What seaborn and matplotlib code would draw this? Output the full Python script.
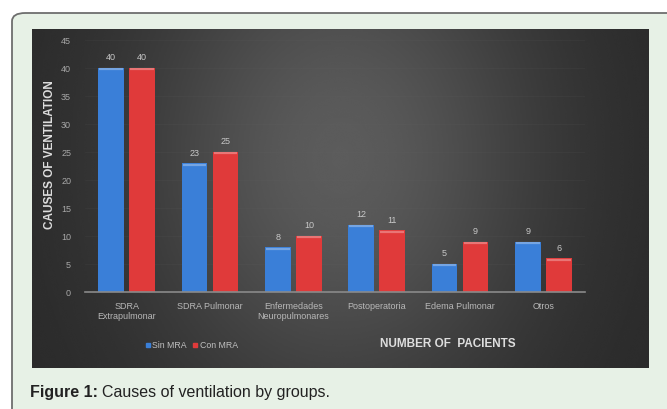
import numpy as np
import pandas as pd
import matplotlib
matplotlib.use("Agg")
import matplotlib.pyplot as plt
import seaborn as sns
from matplotlib.patches import FancyBboxPatch
from matplotlib.lines import Line2D

# Causes of mechanical ventilation, patients per group
categories = ["SDRA\nExtrapulmonar", "SDRA Pulmonar", "Enfermedades\nNeuropulmonares",
              "Postoperatoria", "Edema Pulmonar", "Otros"]
sin_mra = [40, 23, 8, 12, 5, 9]
con_mra = [40, 25, 10, 11, 9, 6]
groups = ["Sin MRA", "Con MRA"]
y_ticks = [0, 5, 10, 15, 20, 25, 30, 35, 40, 45]

df = pd.DataFrame({
    "cause": categories * 2,
    "value": sin_mra + con_mra,
    "group": [groups[0]] * len(categories) + [groups[1]] * len(categories),
})

sns.set_theme(style="dark")
plt.rcParams["font.family"] = ["Liberation Sans", "DejaVu Sans"]

W, H = 667, 409
fig = plt.figure(figsize=(W / 100, H / 100), dpi=100)
fig.patch.set_facecolor("white")

# light green page box with rounded top-left corner
page = FancyBboxPatch((12 / W, -0.2), 2.0, (H - 13) / H + 0.2,
                      boxstyle="round,pad=0,rounding_size=0.02",
                      transform=fig.transFigure, facecolor="#e7f1e6",
                      edgecolor="#6e6e6e", linewidth=1.3, zorder=-5)
fig.patches.append(page)

# dark panel with a soft radial glow
bg = fig.add_axes([32 / W, (H - 368) / H, (649 - 32) / W, (368 - 29) / H])
bg.set_zorder(1)
gx, gy = np.meshgrid(np.linspace(0, 1, 400), np.linspace(0, 1, 250))
glow = np.exp(-(((gx - 0.5) / 0.33) ** 2 + ((gy - 0.62) / 0.75) ** 2))
bg.imshow(0.16 + 0.20 * glow, cmap="gray", vmin=0, vmax=1, aspect="auto",
          origin="lower", extent=(0, 1, 0, 1), interpolation="bicubic")
bg.set_axis_off()

ax = fig.add_axes([85 / W, (H - 292) / H, 500 / W, 252 / H])
ax.set_zorder(2)
ax.patch.set_alpha(0)
palette = {"Sin MRA": "#3a7fd8", "Con MRA": "#e03a3a"}
sns.barplot(data=df, x="cause", y="value", hue="group", palette=palette,
            width=0.745, gap=0.17, saturation=1, linewidth=0, ax=ax, legend=False)

ax.set_ylim(0, 45)
ax.set_xlim(-0.5, len(categories) - 0.5)
ax.set_yticks(y_ticks)
ax.tick_params(axis="y", length=0, pad=10, labelsize=6.5, labelcolor="#a8a8a8")
ax.tick_params(axis="x", length=0, pad=7, labelsize=6.5, labelcolor="#b8b8b8")
ax.set_xlabel("")
ax.set_ylabel("")
for s in ["top", "right", "left"]:
    ax.spines[s].set_visible(False)
ax.spines["bottom"].set_color("#8a8a8a")
ax.spines["bottom"].set_linewidth(1.2)
ax.grid(axis="y", color="#6a6a6a", alpha=0.12, linewidth=0.6)
ax.set_axisbelow(True)

# highlight along the top of each bar and value labels
for bar in ax.patches:
    x0, w, h = bar.get_x(), bar.get_width(), bar.get_height()
    ax.plot([x0 + w * 0.04, x0 + w * 0.96], [h - 0.25, h - 0.25],
            color="white", alpha=0.3, linewidth=1.6, solid_capstyle="butt")
for cont in ax.containers:
    ax.bar_label(cont, padding=4, fontsize=6.5, color="#c8c8c8")

overlay = dict(zorder=10)
fig.text(50 / W, 1 - 155 / H, "CAUSES OF VENTILATION", rotation=90,
         ha="center", va="center", fontsize=8.5, fontweight="bold",
         color="#dedede", **overlay)
fig.text(448 / W, 1 - 344 / H, "NUMBER OF  PACIENTS", ha="center", va="center",
         fontsize=8.5, fontweight="bold", color="#dedede", **overlay)

handles = [Line2D([], [], marker="s", linestyle="", markersize=3.2,
                  color=palette[g]) for g in groups]
leg = fig.legend(handles, groups, loc="center", bbox_to_anchor=(191 / W, 1 - 346 / H),
                 ncol=2, frameon=False, fontsize=6.3, labelcolor="#c0c0c0",
                 handletextpad=0.1, columnspacing=0.6, handlelength=0.8)
leg.set_zorder(10)

# caption: bold label followed by regular text
cap = fig.text(30 / W, 1 - 392 / H, "Figure 1:", ha="left", va="center",
               fontsize=11.5, fontweight="bold", color="#222222")
fig.canvas.draw()
ext = cap.get_window_extent()
fig.text((ext.x1 + 4) / W, 1 - 392 / H, "Causes of ventilation by groups.",
         ha="left", va="center", fontsize=11.5, color="#222222")

fig.savefig("out.png", dpi=100, facecolor=fig.get_facecolor())
